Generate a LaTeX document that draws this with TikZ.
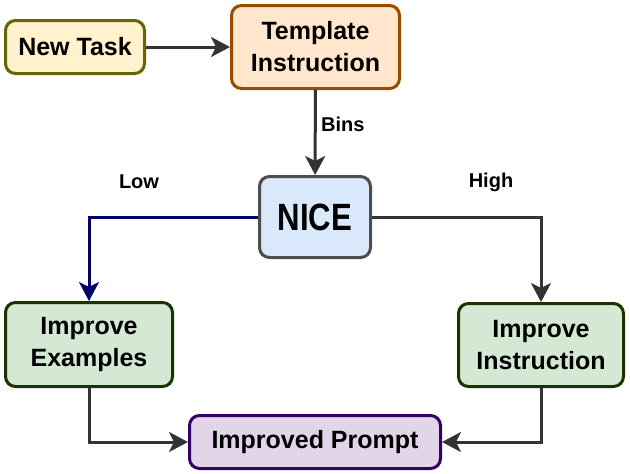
\documentclass[tikz,border=0pt]{standalone}
\usepackage{fontspec}
\setmainfont{Liberation Sans}
\newfontfamily\nicefont[FakeStretch=0.82]{Liberation Sans}
\usepackage{tikz}
\usetikzlibrary{arrows.meta, calc, positioning}
\definecolor{tasknewfill}{HTML}{FFF2CC}
\definecolor{tasknewline}{HTML}{666600}
\definecolor{templfill}{HTML}{FFE6CC}
\definecolor{templline}{HTML}{994C00}
\definecolor{nicefill}{HTML}{DAE8FC}
\definecolor{niceline}{HTML}{4D4D4D}
\definecolor{improvefill}{HTML}{D5E8D4}
\definecolor{improveline}{HTML}{1A3300}
\definecolor{promptfill}{HTML}{E1D5E7}
\definecolor{promptline}{HTML}{330066}
\definecolor{flowline}{HTML}{333333}
\definecolor{lowline}{HTML}{000066}

\begin{document}
\begin{tikzpicture}[
x=1pt, y=-1pt,
texts/.style = {text=black, font=\fontsize{25}{32}\selectfont\bfseries},
labeltexts/.style = {text=black, font=\fontsize{20}{22}\selectfont\bfseries},
stepbox/.style = {texts, rectangle, rounded corners=10pt, line width=3pt, align=center, inner sep=0pt},
flow/.style = {draw=flowline, line width=3pt, -{Stealth[length=19pt, width=20pt, inset=5pt]}},
lowflow/.style = {flow, draw=lowline, -{Stealth[length=19pt, width=20pt, inset=5pt, fill=lowline]}}
]
\useasboundingbox (0,0) rectangle (630,474);

\node[stepbox, draw=tasknewline, fill=tasknewfill, minimum width=139pt, minimum height=53pt] (newtask) at (75,47) {New Task};
\node[stepbox, draw=templline, fill=templfill, minimum width=168pt, minimum height=83pt] (templ) at (315.5,47) {Template\\Instruction};
\node[stepbox, draw=niceline, fill=nicefill, minimum width=111pt, minimum height=81pt, font=\nicefont\fontsize{38}{40}\selectfont\bfseries] (nice) at (315,217) {NICE};
\node[stepbox, draw=improveline, fill=improvefill, minimum width=167pt, minimum height=84pt] (impex) at (89,344.5) {Improve\\Examples};
\node[stepbox, draw=improveline, fill=improvefill, minimum width=165pt, minimum height=83pt] (impins) at (541,345) {Improve\\Instruction};
\node[stepbox, draw=promptline, fill=promptfill, minimum width=251pt, minimum height=53pt] (prompt) at (315,442) {Improved Prompt};

\draw[flow] (newtask) -- (templ);
\draw[flow] (templ) -- node[labeltexts, pos=0.4, right=1pt] (bins) {Bins} (nice);
\draw[lowflow] (nice.west) -| (impex.north);
\draw[flow] (nice.east) -| (impins.north);
\draw[flow] (impex.south) |- (prompt.west);
\draw[flow] (impins.south) |- (prompt.east);

\node[labeltexts] (low) at (139,182) {Low};
\node[labeltexts] (high) at (491,182) {High};
\end{tikzpicture}
\end{document}
